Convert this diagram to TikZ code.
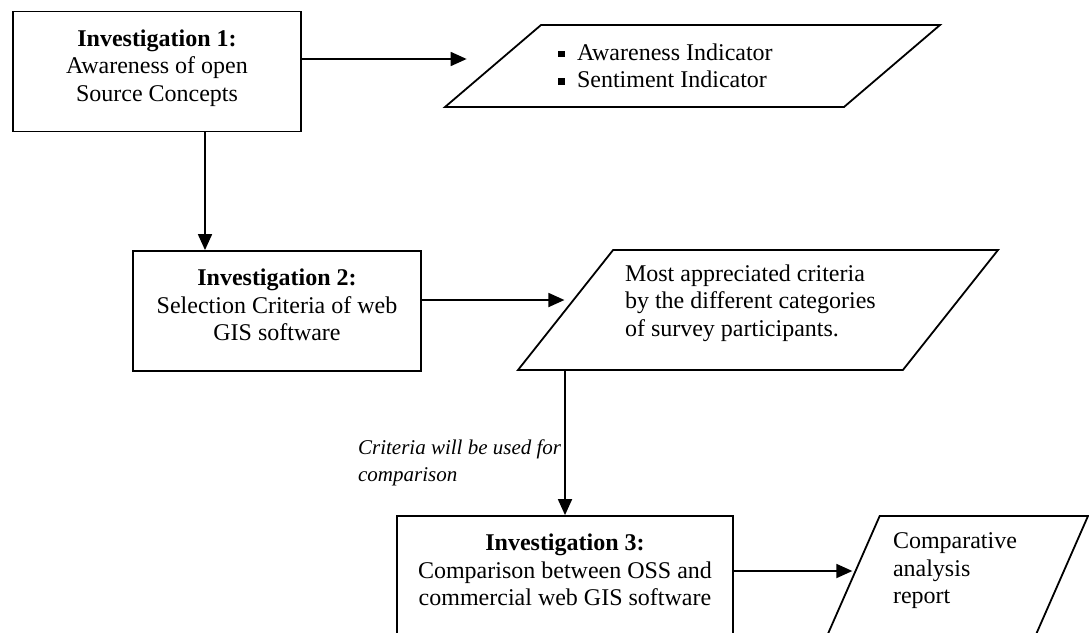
\documentclass[tikz,border=0pt]{standalone}
\usepackage{fontspec}
\setmainfont{Liberation Serif}
\usetikzlibrary{shapes.geometric,arrows.meta}

\tikzset{
    invbox/.style={draw, line width=1.8pt, inner sep=0pt},
    outpara/.style 2 args={draw, line width=1.8pt, inner sep=0pt, trapezium,
        trapezium stretches body, trapezium left angle=#1, trapezium right angle=#2},
    flow/.style={line width=1.8pt, -{Triangle[length=16pt,width=14pt]}},
    usenote/.style={font=\fontsize{21}{27}\selectfont\itshape, align=left, inner sep=3pt}
}
\newcommand{\boxtext}[3]{\parbox[c][120pt][t]{#1}{\centering\vspace*{#2}#3}}
\newcommand{\sqbullet}{\rule[3pt]{6.5pt}{6.5pt}\hspace{12.5pt}}

\begin{document}
\begin{tikzpicture}[x=1pt, y=-1pt, font=\fontsize{24}{27.5}\selectfont]
    \useasboundingbox (0,0) rectangle (1089,632);
    \clip (0,0) rectangle (1089,632);

    % Investigation 1
    \node[invbox] (inv1) at (157,71.5) {\boxtext{288pt}{18pt}{\textbf{Investigation 1:}\\Awareness of open\\Source Concepts}};
    \node[outpara={40.5}{139.5}, minimum width=495pt, minimum height=82pt] (aware) at (692.5,66)
        {\parbox[c][82pt][c]{269pt}{\sqbullet Awareness Indicator\\\sqbullet Sentiment Indicator}};

    % Investigation 2
    \node[invbox] (inv2) at (277,311) {\boxtext{288pt}{18pt}{\textbf{Investigation 2:}\\Selection Criteria of web\\GIS software}};
    \node[outpara={51.6}{128.4}, minimum width=480pt, minimum height=120pt] (crit) at (758,310)
        {\parbox[c][120pt][t]{266pt}{\raggedright\vspace*{14.5pt}Most appreciated criteria\\by the different categories\\of survey participants.}};

    % Investigation 3
    \node[invbox] (inv3) at (565,576) {\boxtext{336pt}{18pt}{\textbf{Investigation 3:}\\Comparison between OSS and\\commercial web GIS software}};
    \node[outpara={66.3}{113.7}, minimum width=261pt, minimum height=120pt] (report) at (957.5,576)
        {\parbox[c][120pt][t]{129pt}{\raggedright\vspace*{17pt}Comparative\\analysis\\report}};

    % Arrows
    \draw[flow] ([xshift=48pt]inv1.south) -- ([xshift=48pt]inv1.south |- inv2.north);
    \draw[flow, shorten >=25pt] ([yshift=12.5pt]inv1.east) -- ([yshift=12.5pt]inv1.east -| aware.left side);
    \draw[flow] ([yshift=11pt]inv2.east) -- ([yshift=11pt]inv2.east -| crit.left side);
    \draw[flow] (crit.bottom side -| inv3.north) -- node[usenote, pos=0.637, left] (usetext)
        {Criteria will be used for\\comparison} (inv3.north);
    \draw[flow] ([yshift=5pt]inv3.east) -- ([yshift=5pt]inv3.east -| report.left side);
\end{tikzpicture}
\end{document}
